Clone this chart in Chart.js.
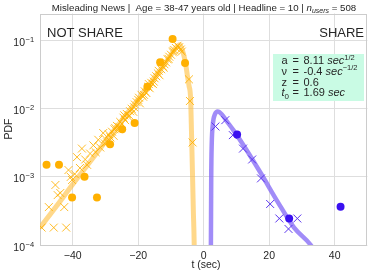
<!DOCTYPE html>
<html>
<head>
<meta charset="utf-8">
<script src="https://cdn.jsdelivr.net/npm/chart.js@4.4.1/dist/chart.umd.min.js"></script>
<style>
  html, body { margin: 0; padding: 0; background: #fff; }
  canvas { display: block; }
</style>
</head>
<body>
<canvas id="pdf-chart" width="374" height="275"></canvas>
<script>
// tick labels
const xTicks = [-40, -20, 0, 20, 40];
const yTickExps = [-1, -2, -3, -4];

// NOT SHARE (negative times) - fitted curve
const notShareLineT = [-50, -45, -40, -35, -30, -25, -20, -15, -12, -10, -8.5, -7.3, -6.5, -5.6, -5.0, -4.5, -4.0, -3.7, -3.4, -3.15, -2.9, -2.7];
const notShareLineV = [1.8e-4, 3.7e-4, 7.8e-4, 1.6e-3, 3.3e-3, 6.8e-3, 0.0138, 0.029, 0.045, 0.062, 0.079, 0.087, 0.072, 0.048, 0.031, 0.022, 0.014, 4e-3, 1e-3, 3e-4, 1e-4, 1e-5];

// NOT SHARE - fine histogram (crosses)
const notShareCrossT = [-49.5, -47.3, -45.8, -45.3, -44.6, -43.8, -42.6, -42.0, -41.3, -40.6, -40.2, -39.4, -38.7, -37.8, -37.2, -36.2, -35.6, -34.7, -33.7, -33.0, -32.2, -31.6, -30.7, -30.2,
  -30.0, -29.5, -29.0, -28.5, -28.0, -27.5, -27.0, -26.5, -26.0, -25.5, -25.0, -24.5, -24.0, -23.5, -23.0, -22.5, -22.0, -21.5, -21.0, -20.5,
  -20.0, -19.5, -19.0, -18.5, -18.0, -17.5, -17.0, -16.5, -16.0, -15.5, -15.0, -14.5, -14.0, -13.5, -13.0, -12.5, -12.0, -11.5, -11.0, -10.5,
  -10.0, -9.5, -9.0, -8.5, -8.0, -7.5, -7.0, -6.7,
  -28.75, -27.25, -25.75, -24.25, -22.75, -21.25, -19.75, -18.25, -16.75, -15.25, -13.75, -12.25, -10.75, -9.25,
  -4.5, -4.2, -3.4];
const notShareCrossV = [1.8e-4, 3.6e-4, 1.8e-4, 7.6e-4, 5.4e-4, 5.8e-4, 3.6e-4, 1.8e-4, 1.26e-3, 1.0e-3, 9.0e-4, 1.1e-3, 1.95e-3, 1.35e-3, 2.6e-3, 1.8e-3, 1.5e-3, 2.2e-3, 2.9e-3, 2.3e-3, 3.5e-3, 2.7e-3, 4.4e-3, 3.1e-3,
  3.6e-3, 3.2e-3, 4.2e-3, 3.8e-3, 4.6e-3, 4.0e-3, 5.2e-3, 5.6e-3, 5.0e-3, 6.4e-3, 6.0e-3, 7.4e-3, 6.8e-3, 8.4e-3, 7.6e-3, 9.2e-3, 1.0e-2, 9.0e-3, 1.15e-2, 1.25e-2,
  1.35e-2, 1.2e-2, 1.6e-2, 1.5e-2, 1.8e-2, 1.7e-2, 2.1e-2, 2.0e-2, 2.4e-2, 2.3e-2, 2.8e-2, 3.0e-2, 3.3e-2, 3.1e-2, 3.8e-2, 4.2e-2, 4.5e-2, 4.8e-2, 5.3e-2, 5.8e-2,
  6.2e-2, 6.8e-2, 7.3e-2, 7.8e-2, 8.4e-2, 8.0e-2, 7.4e-2, 6.9e-2,
  3.4e-3, 5.0e-3, 5.4e-3, 8.0e-3, 8.0e-3, 1.05e-2, 1.45e-2, 1.6e-2, 2.3e-2, 2.5e-2, 3.6e-2, 4.0e-2, 5.4e-2, 7.0e-2,
  2.7e-2, 1.3e-2, 3.2e-3];

// NOT SHARE - coarse histogram (dots)
const notShareDotT = [-48.0, -44.2, -40.2, -36.4, -32.6, -28.6, -24.9, -21.1, -17.2, -13.3, -9.5, -5.7];
const notShareDotV = [1.5e-3, 1.5e-3, 5e-4, 1e-3, 5e-4, 3e-3, 5e-3, 6.2e-3, 0.021, 0.048, 0.106, 0.047];

// SHARE (positive times) - fitted curve
const shareLineT = [2.05, 2.2, 2.3, 2.45, 2.8, 3.4, 4.3, 5.5, 7.0, 9.0, 12.5, 17.5, 22.6, 27.6, 32.7, 36.0];
const shareLineV = [1e-5, 1e-4, 1e-3, 3e-3, 6e-3, 8.2e-3, 9.1e-3, 8.3e-3, 6.6e-3, 4.9e-3, 2.75e-3, 1.12e-3, 4.3e-4, 1.8e-4, 1e-4, 5.5e-5];

// SHARE - fine histogram (crosses)
const shareCrossT = [3.6, 6.6, 8.9, 12.0, 14.8, 17.5, 20.3, 23.1, 25.9, 28.6];
const shareCrossV = [5.5e-3, 6.8e-3, 4.1e-3, 2.6e-3, 1.8e-3, 9.5e-4, 4.0e-4, 2.45e-4, 1.72e-4, 2.45e-4];

// SHARE - coarse histogram (dots)
const shareDotT = [10.2, 26.1, 41.8];
const shareDotV = [4.2e-3, 2.45e-4, 3.65e-4];

const pts = (ts, vs) => ts.map((t, i) => ({ x: t, y: vs[i] }));

const FONT = '"Liberation Sans", Arial, sans-serif';
const INK = '#262626';

// draw a run of text pieces: [text, size, style, dy]
function drawRun(ctx, x, y, parts, align) {
    let total = 0;
    parts.forEach(p => {
        ctx.font = (p[2] || '') + ' ' + p[1] + 'px ' + FONT;
        total += ctx.measureText(p[0]).width;
    });
    let cx = x;
    if (align === 'center') cx = x - total / 2;
    if (align === 'right') cx = x - total;
    parts.forEach(p => {
        ctx.font = (p[2] || '') + ' ' + p[1] + 'px ' + FONT;
        ctx.fillText(p[0], cx, y + (p[3] || 0));
        cx += ctx.measureText(p[0]).width;
    });
}

const decorations = {
    id: 'decorations',
    beforeDatasetsDraw(chart) {
        const { ctx, chartArea: a } = chart;
        ctx.save();
        ctx.strokeStyle = '#cccccc';
        ctx.lineWidth = 1;
        ctx.strokeRect(Math.round(a.left) + 0.5, Math.round(a.top) + 0.5,
            Math.round(a.right - a.left) - 1, Math.round(a.bottom - a.top) - 1);
        ctx.restore();
    },
    afterDraw(chart) {
        const { ctx, scales } = chart;
        ctx.save();
        ctx.fillStyle = INK;
        ctx.textBaseline = 'alphabetic';

        // title
        drawRun(ctx, 204, 11, [
            ['Misleading News |  Age = 38-47 years old | Headline = 10 | ', 9.7],
            ['n', 9.7, 'italic'],
            ['users', 7, 'italic', 2.3],
            [' = 508', 9.7]
        ], 'center');

        // y tick labels
        yTickExps.forEach(e => {
            const y = scales.y.getPixelForValue(Math.pow(10, e));
            drawRun(ctx, 25, y + 5.5, [['10', 10.5]], 'right');
            drawRun(ctx, 25.5, y + 1.5, [['\u2212' + Math.abs(e), 7.5]], 'left');
        });

        // x tick labels
        xTicks.forEach(v => {
            const x = scales.x.getPixelForValue(v);
            const s = v < 0 ? '\u2212' + Math.abs(v) : String(v);
            drawRun(ctx, x, 258.5, [[s, 10.5]], 'center');
        });

        // axis titles
        drawRun(ctx, 206, 268, [['t (sec)', 10.5]], 'center');
        ctx.save();
        ctx.translate(11.5, 129);
        ctx.rotate(-Math.PI / 2);
        drawRun(ctx, 0, 0, [['PDF', 10.5]], 'center');
        ctx.restore();

        // region labels
        drawRun(ctx, 47, 36.7, [['NOT SHARE', 13]], 'left');
        drawRun(ctx, 364, 36.7, [['SHARE', 13]], 'right');

        // parameter box
        ctx.fillStyle = '#c9fbe4';
        ctx.fillRect(273, 54, 91, 47);
        ctx.fillStyle = INK;
        const rows = [
            [['a', 11]],
            [['\u03bd', 11]],
            [['z', 11]],
            [['t', 11, 'italic'], ['0', 8, '', 2.5]]
        ];
        const vals = [
            [['8.11 ', 11], ['sec', 11, 'italic'], ['1/2', 7.5, '', -4.5]],
            [['-0.4 ', 11], ['sec', 11, 'italic'], ['\u22121/2', 7.5, '', -4.5]],
            [['0.6', 11]],
            [['1.69 ', 11], ['sec', 11, 'italic']]
        ];
        rows.forEach((r, i) => {
            const by = 64 + i * 10.8;
            drawRun(ctx, 281.5, by, r, 'left');
            drawRun(ctx, 292.5, by, [['=', 11]], 'left');
            drawRun(ctx, 303.5, by, vals[i], 'left');
        });
        ctx.restore();
    }
};

new Chart(document.getElementById('pdf-chart'), {
    type: 'scatter',
    data: {
        datasets: [
            {
                data: pts(shareDotT, shareDotV),
                pointStyle: 'circle',
                pointRadius: 4,
                backgroundColor: '#3a10f0',
                borderColor: '#3a10f0',
                borderWidth: 0
            },
            {
                data: pts(shareCrossT, shareCrossV),
                pointStyle: 'crossRot',
                pointRadius: 5.6,
                borderColor: '#5a35ee',
                borderWidth: 1
            },
            {
                type: 'line',
                data: pts(shareLineT, shareLineV),
                borderColor: 'rgba(125, 95, 245, 0.72)',
                borderWidth: 4.5,
                pointRadius: 0,
                cubicInterpolationMode: 'monotone',
                fill: false
            },
            {
                data: pts(notShareDotT, notShareDotV),
                pointStyle: 'circle',
                pointRadius: 4,
                backgroundColor: '#ffb000',
                borderColor: '#ffb000',
                borderWidth: 0
            },
            {
                data: pts(notShareCrossT, notShareCrossV),
                pointStyle: 'crossRot',
                pointRadius: 5.6,
                borderColor: 'rgba(255, 176, 0, 0.85)',
                borderWidth: 1
            },
            {
                type: 'line',
                data: pts(notShareLineT, notShareLineV),
                borderColor: 'rgba(255, 190, 60, 0.6)',
                borderWidth: 5,
                pointRadius: 0,
                cubicInterpolationMode: 'monotone',
                fill: false
            }
        ]
    },
    options: {
        responsive: false,
        animation: false,
        layout: {
            padding: { left: 40, right: 3, top: 13.5, bottom: 30 }
        },
        scales: {
            x: {
                type: 'linear',
                min: -50,
                max: 50,
                afterBuildTicks: s => { s.ticks = xTicks.map(v => ({ value: v })); },
                ticks: { display: false },
                grid: { color: '#dedede', drawTicks: false },
                border: { display: false }
            },
            y: {
                type: 'logarithmic',
                min: 1e-4,
                max: 0.25,
                afterBuildTicks: s => { s.ticks = yTickExps.map(e => ({ value: Math.pow(10, e) })); },
                ticks: { display: false },
                grid: { color: '#dedede', drawTicks: false },
                border: { display: false }
            }
        },
        plugins: {
            legend: { display: false },
            tooltip: { enabled: false }
        }
    },
    plugins: [decorations]
});
</script>
</body>
</html>
